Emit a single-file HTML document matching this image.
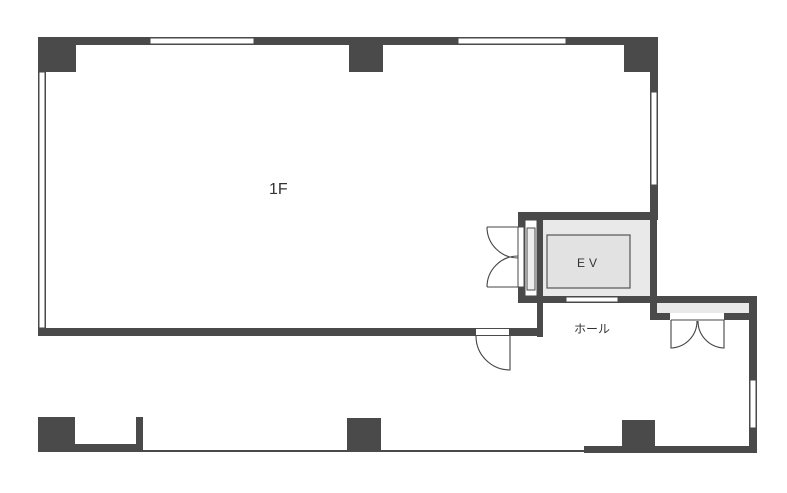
<!DOCTYPE html>
<html><head><style>
html,body{margin:0;padding:0;background:#fff;}
svg{display:block;}
text{font-family:"Liberation Sans","Noto Sans CJK JP",sans-serif;fill:#333;}
</style></head><body>
<svg width="787" height="493" viewBox="0 0 787 493" xmlns="http://www.w3.org/2000/svg">
<rect width="787" height="493" fill="#fff"/>
<g fill="#4a4a4a">
<rect x="38" y="37" width="620" height="8"/>
<rect x="38" y="37" width="38" height="35"/>
<rect x="349" y="37" width="34" height="35"/>
<rect x="624" y="37" width="34" height="35"/>
<rect x="650" y="37" width="8" height="175"/>
<rect x="38" y="37" width="8" height="299"/>
<rect x="38" y="328" width="505" height="8"/>
<rect x="518" y="212" width="140" height="8"/>
<rect x="518" y="212" width="7" height="90"/>
<rect x="537" y="212" width="6" height="125"/>
<rect x="650" y="212" width="7" height="108"/>
<rect x="518" y="296" width="239" height="7"/>
<rect x="650" y="313" width="107" height="7"/>
<rect x="749" y="296" width="8" height="157"/>
<rect x="584" y="446" width="173" height="7"/>
<rect x="622" y="420" width="33" height="33"/>
<rect x="38" y="417" width="37" height="35"/>
<rect x="38" y="444" width="105" height="8"/>
<rect x="136" y="417" width="7" height="35"/>
<rect x="347" y="418" width="34" height="34"/>
<rect x="143" y="450" width="441" height="2"/>
</g>
<g fill="#fff" stroke="#4a4a4a" stroke-width="1">
<rect x="150" y="38" width="104" height="6"/>
<rect x="458" y="38" width="108" height="6"/>
<rect x="651" y="92" width="6" height="93"/>
<rect x="39" y="72" width="6" height="256"/>
<rect x="750" y="380" width="6" height="48"/>
<rect x="476" y="329" width="33" height="6" stroke="none"/>
<rect x="566" y="297" width="52" height="5"/>
<rect x="670" y="313" width="54" height="7" stroke="none"/>
<rect x="525" y="220" width="12" height="76" fill="#fff"/>
<rect x="527" y="228" width="8" height="62" fill="#eee"/>
<rect x="518" y="227" width="6" height="60"/>
</g>
<rect x="543" y="220" width="107" height="76" fill="#e9e9e9"/>
<rect x="547" y="235" width="83" height="53" fill="#e2e2e2" stroke="#555" stroke-width="1.2"/>
<rect x="657" y="303" width="92" height="10" fill="#e9e9e9"/>
<g fill="none" stroke="#444" stroke-width="1.1">
<path d="M476 336 A34 34 0 0 0 510 370 V336"/>
<path d="M487 227 H518 M487 227 A31 31 0 0 0 518 258"/>
<path d="M487 287 H518 M487 287 A31 31 0 0 1 518 256"/>
<path d="M671 320 V348 A27 27 0 0 0 697 321 M671 320 H724 M724 320 V348 A27 27 0 0 1 698 321"/>
</g>
<text x="269" y="194" font-size="16">1F</text>
<text x="577" y="267" font-size="12" letter-spacing="4">EV</text>
<text x="574" y="333" font-size="12">ホール</text>
</svg>
</body></html>
